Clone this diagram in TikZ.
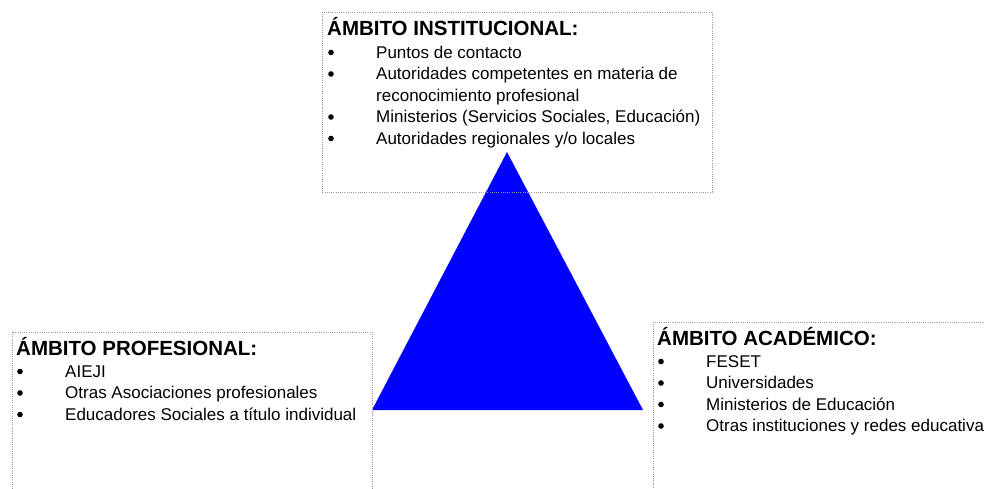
\documentclass[tikz,border=0pt]{standalone}
\usepackage{fontspec}
\setmainfont{Liberation Sans}
\begin{document}
\begin{tikzpicture}[x=1pt,y=-1pt,
  boxline/.style={draw=black!40, line width=0.9pt, dash pattern=on 1pt off 1.2pt},
  head/.style={anchor=base west, inner sep=0pt, font=\fontsize{20.5}{24}\selectfont\bfseries},
  item/.style={anchor=base west, inner sep=0pt, font=\fontsize{17}{21.5}\selectfont},
  dot/.style={circle, fill=black, inner sep=0pt, minimum size=5.6pt}]
\useasboundingbox (0,0) rectangle (985,488);
\clip (0,0) rectangle (985,488);
% triangle
\fill[blue] (507,152) coordinate (apex) -- (372,410) coordinate (bl) -- (643,410) coordinate (br) -- cycle;
% boxes
\draw[boxline] (322,12) rectangle (712,192);
\draw[boxline] (12,332) rectangle (372,500);
\draw[boxline] (653,322) rectangle (1000,500);
% top box
\node[head] (h1) at (327,35) {ÁMBITO INSTITUCIONAL:};
\node[dot] (d11) at (331,52.5) {};
\node[item] (t11) at (376,58) {Puntos de contacto};
\node[dot] (d12) at (331,74) {};
\node[item] (t12) at (376,79.5) {Autoridades competentes en materia de};
\node[item] (t12b) at (376,101) {reconocimiento profesional};
\node[dot] (d13) at (331,117) {};
\node[item] (t13) at (376,122.5) {Ministerios (Servicios Sociales, Educación)};
\node[dot] (d14) at (331,138.5) {};
\node[item] (t14) at (376,144) {Autoridades regionales y/o locales};
% left box
\node[head] (h2) at (16,355) {ÁMBITO PROFESIONAL:};
\node[dot] (d21) at (20,371.5) {};
\node[item] (t21) at (65,377) {AIEJI};
\node[dot] (d22) at (20,393) {};
\node[item] (t22) at (65,398.5) {Otras Asociaciones profesionales};
\node[dot] (d23) at (20,414.5) {};
\node[item] (t23) at (65,420) {Educadores Sociales a título individual};
% right box
\node[head] (h3) at (657,345) {ÁMBITO ACADÉMICO:};
\node[dot] (d31) at (661,361.5) {};
\node[item] (t31) at (706,367) {FESET};
\node[dot] (d32) at (661,383) {};
\node[item] (t32) at (706,388.5) {Universidades};
\node[dot] (d33) at (661,404.5) {};
\node[item] (t33) at (706,410) {Ministerios de Educación};
\node[dot] (d34) at (661,426) {};
\node[item] (t34) at (706,431.5) {Otras instituciones y redes educativa};
\end{tikzpicture}
\end{document}
